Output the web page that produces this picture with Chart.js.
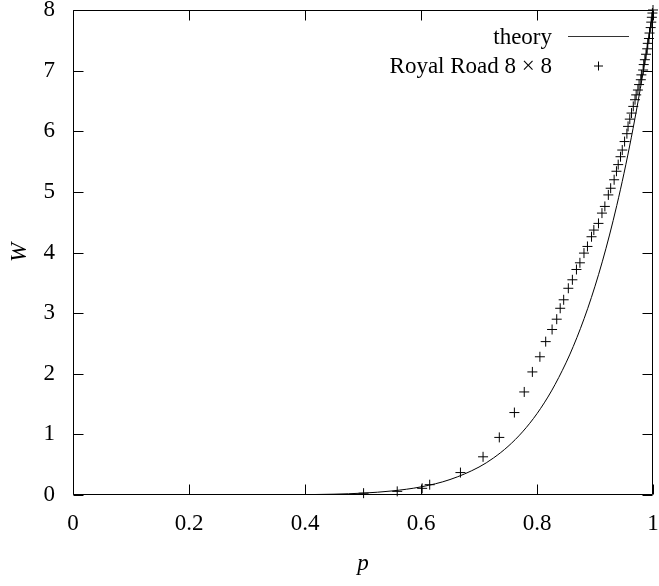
<!DOCTYPE html>
<html>
<head>
<meta charset="utf-8">
<script src="https://cdn.jsdelivr.net/npm/chart.js@4/dist/chart.umd.min.js"></script>
<style>
  html, body { margin: 0; padding: 0; background: #fff; }
  #wrap { width: 659px; height: 586px; }
</style>
</head>
<body>
<div id="wrap"><canvas id="c" width="659" height="586"></canvas></div>
<script>
// Theoretical curve W(p)
const theoryP = [0, 0.1, 0.2, 0.3, 0.35, 0.4, 0.45, 0.5, 0.55, 0.6, 0.65, 0.7, 0.725, 0.75, 0.775,
                 0.8, 0.825, 0.85, 0.8625, 0.875, 0.8875, 0.9, 0.9125, 0.925, 0.9375, 0.95,
                 0.9625, 0.975, 0.9875, 1];
const theoryW = [0, 0, 0.00002, 0.0005, 0.0018, 0.0052, 0.0135, 0.031, 0.067, 0.134, 0.255, 0.461,
                 0.611, 0.801, 1.041, 1.342, 1.717, 2.180, 2.450, 2.749, 3.079, 3.444, 3.846,
                 4.288, 4.774, 5.307, 5.892, 6.533, 7.234, 8];

// Measured Royal Road 8 x 8 runs
const royalP = [0.501, 0.559, 0.602, 0.615, 0.668, 0.707, 0.735, 0.761, 0.778, 0.792, 0.805, 0.815,
                0.826, 0.834, 0.840, 0.846, 0.854, 0.861, 0.868, 0.874, 0.881, 0.887, 0.894, 0.898,
                0.906, 0.912, 0.917, 0.923, 0.927, 0.933, 0.937, 0.940, 0.944, 0.947, 0.951, 0.955,
                0.957, 0.960, 0.963, 0.966, 0.969, 0.971, 0.974, 0.976, 0.979, 0.980, 0.983, 0.984,
                0.986, 0.988, 0.990, 0.991, 0.993, 0.994, 0.996, 0.997, 0.998, 0.999, 1.000];
const royalW = [0.03, 0.06, 0.11, 0.17, 0.37, 0.63, 0.95, 1.36, 1.70, 2.03, 2.28, 2.53,
                2.73, 2.90, 3.08, 3.22, 3.41, 3.55, 3.72, 3.83, 3.99, 4.10, 4.26, 4.37,
                4.48, 4.65, 4.76, 4.95, 5.06, 5.20, 5.34, 5.45, 5.58, 5.69, 5.83, 5.96,
                6.08, 6.20, 6.30, 6.41, 6.52, 6.60, 6.68, 6.77, 6.85, 6.93, 7.01, 7.10,
                7.18, 7.27, 7.36, 7.45, 7.53, 7.62, 7.71, 7.80, 7.88, 7.95, 8.00];

const xTicks = [0, 0.2, 0.4, 0.6, 0.8, 1];
const yTicks = [0, 1, 2, 3, 4, 5, 6, 7, 8];
const seriesNames = ['theory', 'Royal Road 8 \u00d7 8'];
const axisTitles = { x: 'p', y: 'W' };

const SERIF = '"Liberation Serif", "Times New Roman", serif';

const toPoints = (xs, ys) => xs.map((x, i) => ({ x: x, y: ys[i] }));

// Gnuplot-style frame with inward ticks on all four sides, plus a right-aligned key
const framePlugin = {
  id: 'frameAndKey',
  afterDraw(chart) {
    const { ctx, chartArea: a, scales } = chart;
    const L = Math.round(a.left) + 0.5, R = Math.round(a.right) - 0.5;
    const T = Math.round(a.top) + 0.5, B = Math.round(a.bottom) - 0.5;
    const tl = 10;
    ctx.save();
    ctx.strokeStyle = '#000';
    ctx.lineWidth = 1;
    ctx.beginPath();
    ctx.rect(L, T, R - L, B - T);
    scales.x.ticks.forEach(t => {
      const px = Math.round(scales.x.getPixelForValue(t.value)) + 0.5;
      ctx.moveTo(px, B); ctx.lineTo(px, B - tl);
      ctx.moveTo(px, T); ctx.lineTo(px, T + tl);
    });
    scales.y.ticks.forEach(t => {
      const py = Math.round(scales.y.getPixelForValue(t.value)) + 0.5;
      ctx.moveTo(L, py); ctx.lineTo(L + tl, py);
      ctx.moveTo(R, py); ctx.lineTo(R - tl, py);
    });
    ctx.stroke();

    // key
    ctx.font = '23px ' + SERIF;
    ctx.fillStyle = '#000';
    ctx.textAlign = 'right';
    ctx.textBaseline = 'middle';
    const textRight = 552, row1 = 38, row2 = 67;
    ctx.fillText(seriesNames[0], textRight, row1);
    ctx.fillText(seriesNames[1], textRight, row2);
    ctx.strokeStyle = '#333';
    ctx.beginPath();
    ctx.moveTo(568, row1 - 1.5); ctx.lineTo(629, row1 - 1.5);
    ctx.stroke();
    ctx.strokeStyle = '#000';
    Chart.helpers.drawPoint(ctx, { pointStyle: 'cross', radius: 4.5, rotation: 0, borderWidth: 1 }, 598.5, row2 - 1);
    ctx.restore();
  }
};

new Chart(document.getElementById('c'), {
  type: 'scatter',
  data: {
    datasets: [
      {
        label: seriesNames[0],
        data: toPoints(theoryP, theoryW),
        showLine: true,
        borderColor: '#000',
        borderWidth: 1,
        pointRadius: 0,
        cubicInterpolationMode: 'monotone',
        fill: false
      },
      {
        label: seriesNames[1],
        data: toPoints(royalP, royalW),
        showLine: false,
        pointStyle: 'cross',
        pointRadius: 5,
        pointBorderWidth: 1,
        borderColor: '#000',
        backgroundColor: '#000',
        clip: false
      }
    ]
  },
  options: {
    responsive: false,
    animation: false,
    devicePixelRatio: 1,
    layout: { padding: { top: 10, right: 5, left: 0, bottom: 0 } },
    plugins: { legend: { display: false }, tooltip: { enabled: false } },
    scales: {
      x: {
        type: 'linear', min: 0, max: 1,
        afterBuildTicks: s => { s.ticks = xTicks.map(v => ({ value: v })); },
        afterFit: s => { s.height = 91; s.paddingLeft = 0; s.paddingRight = 0; },
        grid: { display: false, drawTicks: false },
        border: { display: false },
        ticks: {
          color: '#000', padding: 15, maxRotation: 0, autoSkip: false,
          font: { family: SERIF, size: 23 },
          callback: v => String(v)
        },
        title: {
          display: true, text: axisTitles.x, color: '#000',
          font: { family: SERIF, size: 23, style: 'italic' },
          padding: { top: 0, bottom: 8 }
        }
      },
      y: {
        type: 'linear', min: 0, max: 8,
        afterBuildTicks: s => { s.ticks = yTicks.map(v => ({ value: v })); },
        afterFit: s => { s.width = 73; s.paddingTop = 0; s.paddingBottom = 0; },
        grid: { display: false, drawTicks: false },
        border: { display: false },
        ticks: {
          color: '#000', padding: 18, autoSkip: false,
          font: { family: SERIF, size: 23 },
          callback: v => String(v)
        },
        title: {
          display: true, text: axisTitles.y, color: '#000',
          font: { family: SERIF, size: 23, style: 'italic' },
          padding: { top: 6, bottom: 0 }
        }
      }
    }
  },
  plugins: [framePlugin]
});
</script>
</body>
</html>
